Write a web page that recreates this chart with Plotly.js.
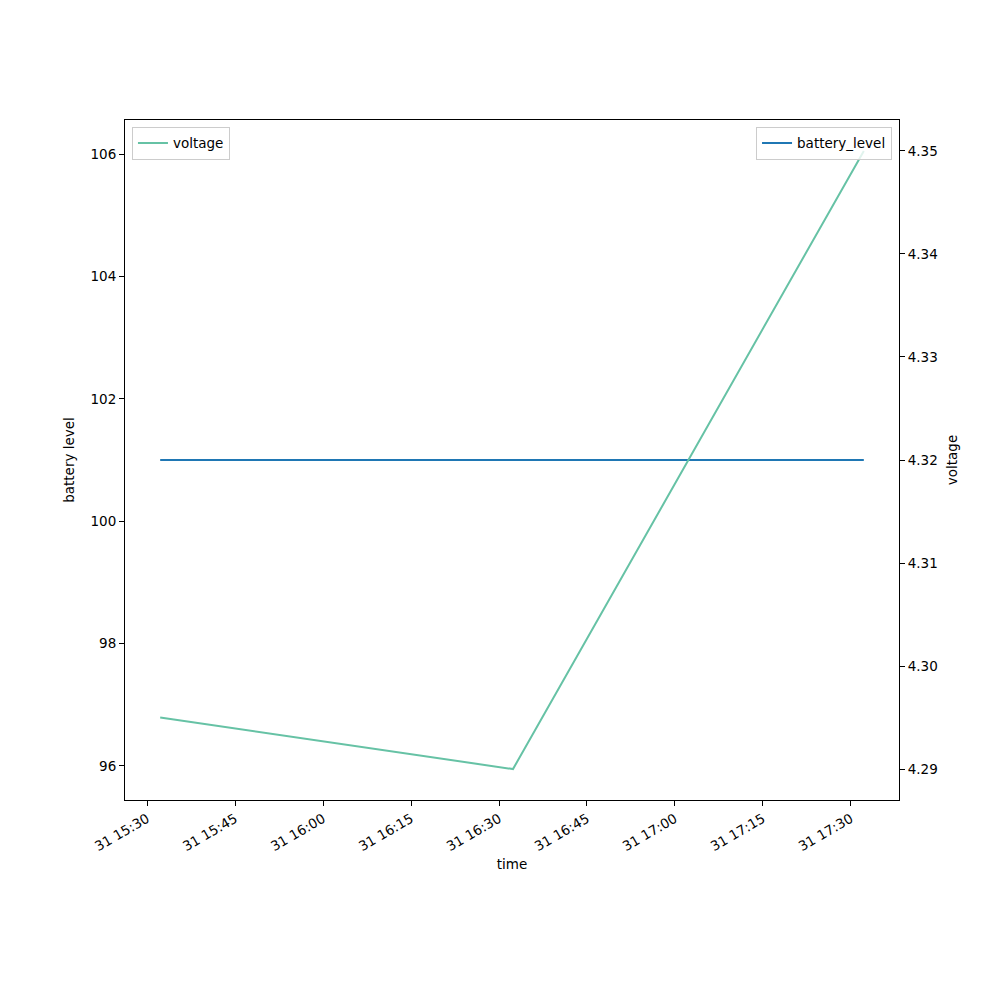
<!DOCTYPE html>
<html><head><meta charset="utf-8">
<script src="https://cdn.plot.ly/plotly-3.0.1.min.js"></script>
<style>body{margin:0;background:#fff}#chart{width:1000px;height:1000px}</style>
</head><body><div id="chart"></div>
<script>
const times = ["2021-01-31 15:32:13", "2021-01-31 16:32:23", "2021-01-31 17:32:13"];
const voltage = [4.295, 4.290, 4.350];
const batteryLevel = [101, 101, 101];
const xTickVals = ["2021-01-31 15:30","2021-01-31 15:45","2021-01-31 16:00","2021-01-31 16:15","2021-01-31 16:30","2021-01-31 16:45","2021-01-31 17:00","2021-01-31 17:15","2021-01-31 17:30"];
const xTickText = ["31 15:30","31 15:45","31 16:00","31 16:15","31 16:30","31 16:45","31 17:00","31 17:15","31 17:30"];

const font = {family: "DejaVu Sans", size: 13.5, color: "#000"};
const traces = [
  {x: times, y: batteryLevel, name: "battery_level", type: "scatter", mode: "lines",
   line: {color: "#1f77b4", width: 2}, yaxis: "y", legend: "legend2"},
  {x: times, y: voltage, name: "voltage", type: "scatter", mode: "lines",
   line: {color: "#66c2a5", width: 2}, yaxis: "y2", legend: "legend"}
];
const layout = {
  width: 1000, height: 1000,
  margin: {l: 125, r: 101, t: 120, b: 200},
  paper_bgcolor: "#fff", plot_bgcolor: "#fff",
  font: font,
  showlegend: true,
  xaxis: {
    type: "date", range: ["2021-01-31 15:26:13", "2021-01-31 17:38:13"],
    tickvals: xTickVals, ticktext: xTickText, tickangle: -30,
    ticks: "outside", ticklen: 5, tickcolor: "#000",
    showgrid: false, zeroline: false, showline: true, linecolor: "#000", mirror: true, linewidth: 1,
    title: {text: "time", font: font, standoff: 6}, tickfont: font
  },
  yaxis: {
    range: [95.444, 106.556], tickvals: [96, 98, 100, 102, 104, 106],
    ticks: "outside", ticklen: 5, tickcolor: "#000",
    showgrid: false, zeroline: false, showline: true, linecolor: "#000", linewidth: 1,
    title: {text: "battery level", font: font, standoff: 12}, tickfont: font
  },
  yaxis2: {
    overlaying: "y", side: "right",
    range: [4.287, 4.353], tickvals: [4.29, 4.30, 4.31, 4.32, 4.33, 4.34, 4.35],
    ticktext: ["4.29","4.30","4.31","4.32","4.33","4.34","4.35"],
    ticks: "outside", ticklen: 5, tickcolor: "#000",
    showgrid: false, zeroline: false, showline: true, linecolor: "#000", linewidth: 1,
    title: {text: "voltage", font: font, standoff: 10}, tickfont: font
  },
  legend: {x: 0.009, y: 0.99, xanchor: "left", yanchor: "top",
    bgcolor: "rgba(255,255,255,0.8)", bordercolor: "#ccc", borderwidth: 1, font: font},
  legend2: {x: 0.991, y: 0.99, xanchor: "right", yanchor: "top",
    bgcolor: "rgba(255,255,255,0.8)", bordercolor: "#ccc", borderwidth: 1, font: font}
};
Plotly.newPlot("chart", traces, layout, {displayModeBar: false});
</script></body></html>
